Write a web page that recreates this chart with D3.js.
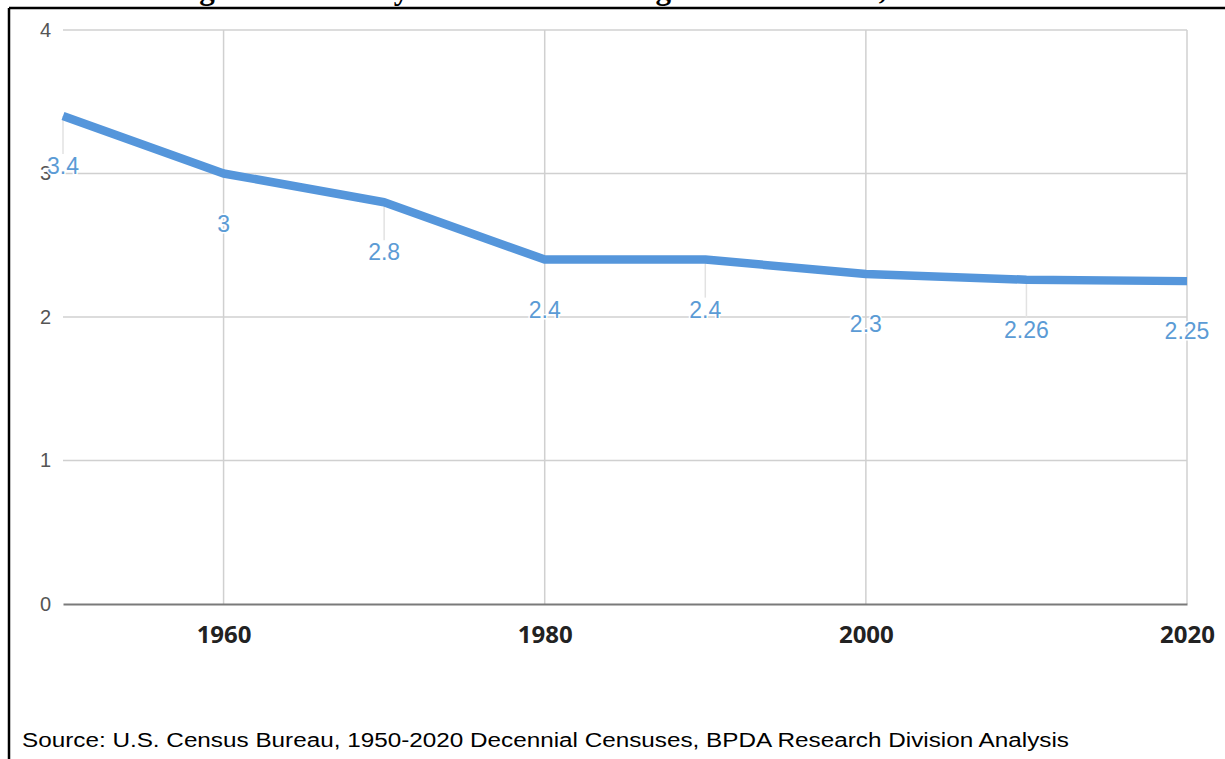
<!DOCTYPE html>
<html><head><meta charset="utf-8">
<script src="https://cdn.jsdelivr.net/npm/d3@7"></script>
<style>html,body{margin:0;padding:0;background:#fff;overflow:hidden}svg{display:block}</style>
</head><body>
<svg id="c" width="1225" height="759"></svg>
<script>
const years = [1950, 1960, 1970, 1980, 1990, 2000, 2010, 2020];
const sizes = [3.4, 3.0, 2.8, 2.4, 2.4, 2.3, 2.26, 2.25];
const labels = ["3.4", "3", "2.8", "2.4", "2.4", "2.3", "2.26", "2.25"];
const yTicks = [0, 1, 2, 3, 4];
const xTicks = [1960, 1980, 2000, 2020];
const titleText = "Figure 12: Family Households Average Size in Boston, 1950-2020";
const sourceText = "Source: U.S. Census Bureau, 1950-2020 Decennial Censuses, BPDA Research Division Analysis";

const svg = d3.select("#c");
const x = d3.scaleLinear().domain([1950, 2020]).range([63, 1187]);
const y = d3.scaleLinear().domain([0, 4]).range([604, 30]);

// partially visible title (cut off at top of the crop)
const t = svg.append("text").attr("y", -1.5)
  .attr("font-family", "Liberation Serif, Times New Roman, serif")
  .attr("font-weight", "bold").attr("font-size", 26).attr("fill", "#000")
  .text(titleText);
(function fitTitle(){
  const gi = titleText.indexOf("g"), ci = titleText.indexOf(",");
  const node = t.node();
  const cx = i => { const e = node.getExtentOfChar(i); return e.x + e.width / 2; };
  const d = cx(ci) - cx(gi);
  t.attr("font-size", 26 * 676 / d);
  t.attr("x", 0);
  t.attr("x", 207 - cx(gi));
})();

// frame
svg.append("line").attr("x1", 9).attr("x2", 1225).attr("y1", 8).attr("y2", 8).attr("stroke", "#000").attr("stroke-width", 2.5);
svg.append("line").attr("x1", 9).attr("x2", 9).attr("y1", 8).attr("y2", 759).attr("stroke", "#000").attr("stroke-width", 2.5);

// horizontal gridlines
svg.append("g").selectAll("line").data(yTicks.filter(d => d > 0)).join("line")
  .attr("x1", x(1950)).attr("x2", x(2020)).attr("y1", d => y(d)).attr("y2", d => y(d))
  .attr("stroke", "#d0d0d0").attr("stroke-width", 1.5);
// vertical gridlines
svg.append("g").selectAll("line").data(xTicks).join("line")
  .attr("x1", d => x(d)).attr("x2", d => x(d)).attr("y1", y(4)).attr("y2", y(0))
  .attr("stroke", "#d0d0d0").attr("stroke-width", 1.5);

// y axis labels
const yAxis = d3.axisLeft(y).tickValues(yTicks).tickSize(0).tickPadding(0).tickFormat(d3.format("d"));
const ya = svg.append("g").attr("transform", "translate(51,0)").call(yAxis);
ya.select(".domain").remove();
ya.selectAll("text").attr("font-family", "Liberation Sans, Arial, sans-serif").attr("font-size", 20).attr("fill", "#555");

// x axis
const xAxis = d3.axisBottom(x).tickValues(xTicks).tickSize(0).tickPadding(0).tickFormat(d3.format("d"));
const xa = svg.append("g").attr("transform", `translate(0,${y(0)})`).call(xAxis);
xa.select(".domain").attr("stroke", "#7a7a7a").attr("stroke-width", 2);
xa.selectAll("text").attr("font-family", "Open Sans, sans-serif").attr("font-weight", 700)
  .attr("font-size", 24).attr("fill", "#222").attr("dy", null).attr("y", 39);

// leader lines
const pts = years.map((yr, i) => ({yr, v: sizes[i], lab: labels[i]}));
svg.append("g").selectAll("line").data(pts.filter(p => !xTicks.includes(p.yr))).join("line")
  .attr("x1", p => x(p.yr)).attr("x2", p => x(p.yr))
  .attr("y1", p => y(p.v)).attr("y2", p => y(p.v) + 38)
  .attr("stroke", "#e2e2e2").attr("stroke-width", 1.5);

// line
const line = d3.line().x(p => x(p.yr)).y(p => y(p.v)).curve(d3.curveLinear);
svg.append("path").datum(pts).attr("d", line).attr("fill", "none")
  .attr("stroke", "#5596db").attr("stroke-width", 8.5).attr("stroke-linejoin", "round");

// data labels
svg.append("g").selectAll("text").data(pts).join("text")
  .attr("x", p => x(p.yr)).attr("y", p => y(p.v) + 58)
  .attr("text-anchor", "middle")
  .attr("font-family", "Liberation Sans, Arial, sans-serif").attr("font-size", 23)
  .attr("fill", "#5b9bd5")
  .attr("stroke", "#fff").attr("stroke-width", 3).attr("paint-order", "stroke")
  .text(p => p.lab);

// source
svg.append("text").attr("x", 22).attr("y", 747)
  .attr("font-family", "Liberation Sans, Arial, sans-serif").attr("font-size", 20).attr("fill", "#000")
  .attr("textLength", 1047).attr("lengthAdjust", "spacingAndGlyphs")
  .text(sourceText);
</script>
</body></html>
